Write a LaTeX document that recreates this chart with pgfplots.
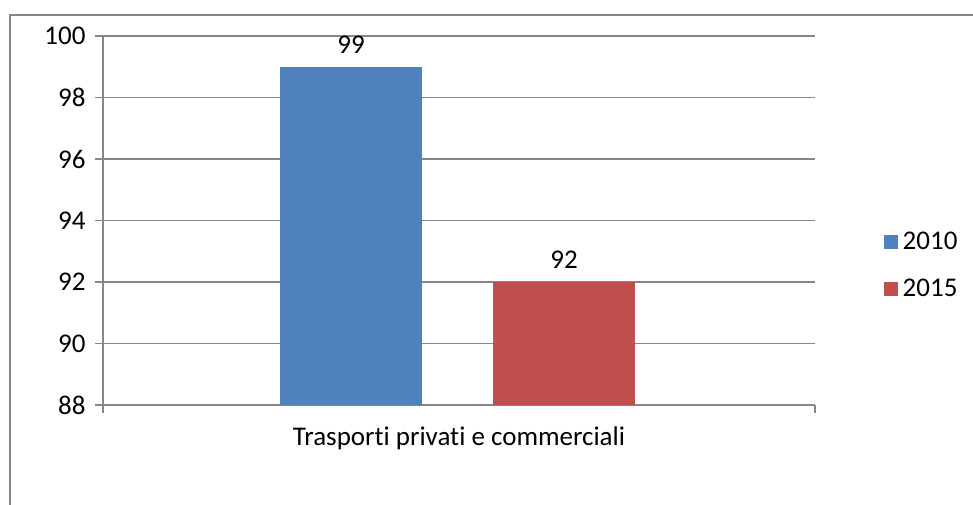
\documentclass[border=0pt]{standalone}
\usepackage{fontspec}
\setmainfont[Ligatures=NoCommon]{Carlito}
\usepackage{pgfplots}
\pgfplotsset{compat=1.18}
\definecolor{cblue}{HTML}{4F81BD}
\definecolor{cred}{HTML}{C0504D}
\definecolor{cgrid}{HTML}{878787}
\begin{document}
\begin{tikzpicture}[x=1pt,y=1pt]
\useasboundingbox (0,0) rectangle (973,505);
\draw[cgrid, line width=1.2pt] (10,0) -- (10,490) -- (973,490);
\begin{axis}[
  at={(103pt,100pt)}, anchor=south west,
  width=712pt, height=369pt, scale only axis,
  xmin=0, xmax=712, ymin=88, ymax=100,
  ytick={88,90,...,100},
  xtick={0,712}, xticklabels={},
  extra x ticks={356}, extra x tick labels={Trasporti privati e commerciali},
  extra x tick style={major tick length=0pt, xticklabel style={yshift=-18pt}},
  tick align=outside, major tick length=8pt,
  ymajorgrids, grid style={cgrid, line width=1.2pt},
  axis line style={cgrid, line width=1.2pt},
  tick style={cgrid, line width=1.2pt},
  axis x line*=bottom, axis y line*=left,
  y axis line style={-}, x axis line style={-},
  font=\fontsize{27}{32}\selectfont,
  ticklabel style={font=\fontsize{27}{32}\selectfont},
  yticklabel style={xshift=-6pt},
  /pgf/number format/assume math mode=true,
  ybar, bar width=142,
  clip mode=individual,
  nodes near coords, every node near coord/.append style={font=\fontsize{27}{32}\selectfont, yshift=10pt},
  legend style={draw=none, fill=none, at={(1.092,0.48)}, anchor=north west,
    font=\fontsize{27}{32}\selectfont, row sep=24pt, legend cell align=left,
    nodes={inner xsep=5pt}},
  legend image code/.code={\fill[#1] (0pt,-7pt) rectangle (14pt,7pt);},
]
\addplot[fill=cblue, draw=none, bar shift=0] coordinates {(248,99)};
\addplot[fill=cred, draw=none, bar shift=0] coordinates {(461,92)};
\legend{2010,2015}
\end{axis}
\end{tikzpicture}
\end{document}
